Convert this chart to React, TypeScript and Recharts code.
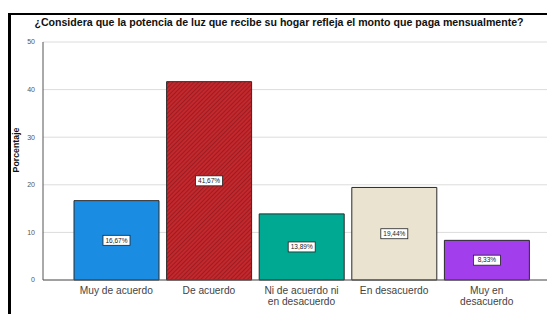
import React from 'react';
import { BarChart, Bar, XAxis, YAxis, CartesianGrid, Cell, LabelList } from 'recharts';

// Survey answers (percent of respondents)
const categories = ['Muy de acuerdo', 'De acuerdo', 'Ni de acuerdo ni\nen desacuerdo', 'En desacuerdo', 'Muy en\ndesacuerdo'];
const percentages = [16.67, 41.67, 13.89, 19.44, 8.33];
const yTicks = [0, 10, 20, 30, 40, 50];
const barFills = ['#1a8de3', 'url(#redHatch)', '#00a992', '#e9e3d0', '#a23eec'];

const data = categories.map((name, i) => ({ name, value: percentages[i] }));

const FONT = '"Liberation Sans", Arial, sans-serif';

const CategoryTick = (props: any) => {
  const { x, y, payload } = props;
  const lines = String(payload.value).split('\n');
  return (
    <g transform={`translate(${x},${y})`}>
      {lines.map((line, i) => (
        <text key={i} x={0} y={6 + i * 10.5} textAnchor="middle" fontSize={10.2} fill="#444" fontFamily={FONT}>
          {line}
        </text>
      ))}
    </g>
  );
};

const ValueBox = (props: any) => {
  const { x, y, width, height, value } = props;
  const cx = x + width / 2;
  const cy = y + height / 2;
  const txt = value.toFixed(2).replace('.', ',') + '%';
  return (
    <g>
      <rect x={cx - 13.5} y={cy - 5} width={27} height={10} fill="#fff" stroke="#222" strokeWidth={0.8} />
      <text x={cx} y={cy + 2.3} textAnchor="middle" fontSize={6.5} fill="#222" fontFamily={FONT}>
        {txt}
      </text>
    </g>
  );
};

const App: React.FC = () => {
  return (
    <div style={{ position: 'absolute', left: 0, top: 0, width: 547, height: 314, background: '#fff', overflow: 'hidden' }}>
      {/* frame */}
      <div style={{ position: 'absolute', left: 8, top: 13, width: 539, height: 2, background: '#000' }} />
      <div style={{ position: 'absolute', left: 8, top: 13, width: 3, height: 301, background: '#000' }} />
      <div
        style={{
          position: 'absolute', left: 11, right: 0, top: 16, textAlign: 'center',
          fontFamily: FONT, fontWeight: 'bold', fontSize: 10.6, color: '#111', whiteSpace: 'nowrap',
        }}
      >
        ¿Considera que la potencia de luz que recibe su hogar refleja el monto que paga mensualmente?
      </div>
      <BarChart
        width={547}
        height={314}
        data={data}
        margin={{ top: 42, right: 0, left: 0, bottom: 4 }}
        barCategoryGap={4}
        style={{ position: 'absolute', left: 0, top: 0 }}
      >
        <defs>
          <pattern id="redHatch" patternUnits="userSpaceOnUse" width={3} height={3} patternTransform="rotate(45)">
            <rect width={3} height={3} fill="#c4282d" />
            <line x1={0} y1={0} x2={0} y2={3} stroke="#7e1518" strokeWidth={1.2} />
          </pattern>
        </defs>
        <CartesianGrid vertical={false} stroke="#dcdcdc" />
        <XAxis
          dataKey="name"
          interval={0}
          height={30}
          padding={{ left: 27, right: 14 }}
          axisLine={{ stroke: '#555' }}
          tickLine={false}
          tick={<CategoryTick />}
        />
        <YAxis
          domain={[0, 50]}
          ticks={yTicks}
          width={43}
          axisLine={{ stroke: '#555' }}
          tickLine={false}
          tick={{ fontSize: 7, fill: '#555', fontFamily: FONT }}
          label={() => (
            <text x={18.5} y={150} transform="rotate(-90 18.5 150)" textAnchor="middle" fontSize={8.8} fontWeight="bold" fill="#111" fontFamily={FONT}>
              Porcentaje
            </text>
          )}
        />
        <Bar dataKey="value" stroke="#2a2a2a" strokeWidth={1} isAnimationActive={false}>
          {data.map((d, i) => (
            <Cell key={d.name} fill={barFills[i]} />
          ))}
          <LabelList dataKey="value" content={<ValueBox />} />
        </Bar>
      </BarChart>
    </div>
  );
};

export default App;
